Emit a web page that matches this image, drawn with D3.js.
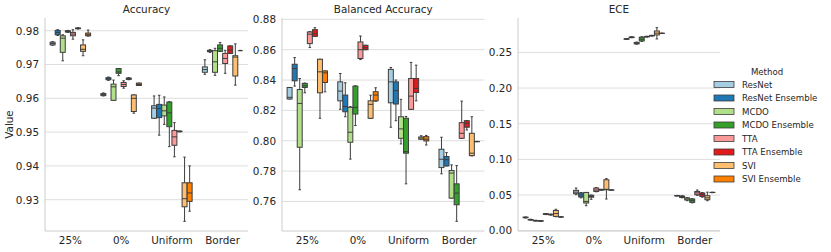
<!DOCTYPE html>
<html>
<head>
<meta charset="utf-8">
<script src="https://cdn.jsdelivr.net/npm/d3@7"></script>
<style>
  html, body { margin: 0; padding: 0; background: #fff; }
  svg { display: block; font-family: "DejaVu Sans", sans-serif; }
</style>
</head>
<body>
<svg id="chart" width="831" height="252"></svg>
<script>
// ---------- data ----------
const categories = ["25%", "0%", "Uniform", "Border"];
const methods = ["ResNet", "ResNet Ensemble", "MCDO", "MCDO Ensemble", "TTA", "TTA Ensemble", "SVI", "SVI Ensemble"];
const methodColors = ["#a6cee3", "#1f78b4", "#b2df8a", "#33a02c", "#fb9a99", "#e31a1c", "#fdbf6f", "#ff7f00"];
const metricTitles = ["Accuracy", "Balanced Accuracy", "ECE"];

// per method: per category [whiskerLow, q1, median, q3, whiskerHigh]
const accuracyStats = [
  [[0.9757,0.9758,0.9762,0.9766,0.9768],[0.9607,0.9608,0.9611,0.9614,0.9616],[0.9541,0.9541,0.9571,0.9578,0.9607],[0.9671,0.9677,0.9685,0.9693,0.9714]],
  [[0.9786,0.9788,0.9795,0.9801,0.9803],[0.9653,0.9655,0.9658,0.9661,0.9663],[0.9491,0.9543,0.9570,0.9582,0.9609],[0.9736,0.9738,0.9740,0.9742,0.9744]],
  [[0.9711,0.9736,0.9778,0.9785,0.9788],[0.9594,0.9594,0.9634,0.9642,0.9654],[0.9523,0.9548,0.9563,0.9580,0.9604],[0.9668,0.9677,0.9708,0.9741,0.9748]],
  [[0.9795,0.9796,0.9798,0.9800,0.9801],[0.9667,0.9674,0.9678,0.9688,0.9688],[0.9457,0.9516,0.9557,0.9589,0.9590],[0.9739,0.9739,0.9748,0.9758,0.9765]],
  [[0.9775,0.9785,0.9790,0.9795,0.9803],[0.9630,0.9635,0.9641,0.9647,0.9652],[0.9427,0.9461,0.9486,0.9505,0.9528],[0.9674,0.9703,0.9718,0.9733,0.9742]],
  [[0.9805,0.9806,0.9807,0.9808,0.9809],[0.9655,0.9656,0.9658,0.9660,0.9661],[0.9501,0.9501,0.9502,0.9503,0.9503],[0.9733,0.9733,0.9743,0.9755,0.9755]],
  [[0.9726,0.9739,0.9745,0.9758,0.9773],[0.9556,0.9561,0.9600,0.9610,0.9610],[0.9236,0.9279,0.9303,0.9350,0.9426],[0.9639,0.9666,0.9722,0.9726,0.9761]],
  [[0.9784,0.9785,0.9788,0.9793,0.9802],[0.9638,0.9638,0.9641,0.9645,0.9645],[0.9266,0.9295,0.9320,0.9350,0.9400],[0.9741,0.9741,0.9741,0.9741,0.9742]]
];
const balancedAccuracyStats = [
  [[0.8275,0.8275,0.8286,0.8351,0.8351],[0.8207,0.8263,0.8327,0.8388,0.8443],[0.8089,0.8250,0.8388,0.8470,0.8483],[0.7782,0.7823,0.7878,0.7944,0.8023]],
  [[0.8360,0.8395,0.8476,0.8504,0.8548],[0.8158,0.8191,0.8225,0.8301,0.8382],[0.8132,0.8242,0.8330,0.8388,0.8400],[0.7834,0.7834,0.7875,0.7896,0.7922]],
  [[0.7677,0.7957,0.8246,0.8338,0.8410],[0.7879,0.7990,0.8056,0.8220,0.8225],[0.7979,0.8016,0.8078,0.8158,0.8273],[0.7622,0.7622,0.7787,0.7804,0.7841]],
  [[0.8316,0.8351,0.8362,0.8378,0.8380],[0.8100,0.8176,0.8220,0.8360,0.8362],[0.7716,0.7918,0.7928,0.8148,0.8160],[0.7469,0.7578,0.7655,0.7716,0.7836]],
  [[0.8614,0.8640,0.8702,0.8717,0.8720],[0.8535,0.8542,0.8600,0.8651,0.8690],[0.8207,0.8207,0.8294,0.8410,0.8516],[0.8016,0.8016,0.8049,0.8119,0.8261]],
  [[0.8688,0.8688,0.8705,0.8732,0.8745],[0.8600,0.8600,0.8613,0.8629,0.8629],[0.8263,0.8318,0.8345,0.8410,0.8498],[0.8071,0.8089,0.8115,0.8132,0.8132]],
  [[0.8148,0.8316,0.8454,0.8537,0.8537],[0.8148,0.8148,0.8240,0.8263,0.8300],[0.8010,0.8010,0.8018,0.8025,0.8033],[0.7900,0.7902,0.7918,0.8049,0.8158]],
  [[0.8322,0.8384,0.8447,0.8460,0.8460],[0.8260,0.8263,0.8301,0.8323,0.8349],[0.7972,0.7999,0.8010,0.8027,0.8035],[0.7994,0.7994,0.7994,0.7995,0.7996]]
];
const eceStats = [
  [[0.0178,0.0181,0.0185,0.0190,0.0192],[0.0505,0.0518,0.0540,0.0565,0.0598],[0.2682,0.2685,0.2689,0.2692,0.2695],[0.0486,0.0488,0.0490,0.0492,0.0494]],
  [[0.0148,0.0150,0.0154,0.0157,0.0160],[0.0460,0.0472,0.0500,0.0528,0.0535],[0.2706,0.2708,0.2713,0.2716,0.2720],[0.0460,0.0465,0.0480,0.0485,0.0490]],
  [[0.0135,0.0137,0.0140,0.0143,0.0146],[0.0350,0.0388,0.0410,0.0536,0.0536],[0.2615,0.2620,0.2629,0.2640,0.2645],[0.0420,0.0430,0.0444,0.0460,0.0465]],
  [[0.0131,0.0133,0.0136,0.0139,0.0141],[0.0440,0.0470,0.0480,0.0496,0.0500],[0.2655,0.2661,0.2685,0.2713,0.2720],[0.0390,0.0397,0.0420,0.0444,0.0448]],
  [[0.0225,0.0229,0.0234,0.0238,0.0240],[0.0545,0.0550,0.0570,0.0598,0.0605],[0.2715,0.2718,0.2721,0.2724,0.2727],[0.0495,0.0504,0.0530,0.0550,0.0570]],
  [[0.0218,0.0222,0.0226,0.0230,0.0232],[0.0568,0.0570,0.0574,0.0578,0.0580],[0.2730,0.2732,0.2735,0.2738,0.2740],[0.0470,0.0480,0.0505,0.0528,0.0535]],
  [[0.0195,0.0200,0.0240,0.0284,0.0300],[0.0444,0.0574,0.0580,0.0714,0.0730],[0.2689,0.2745,0.2770,0.2801,0.2847],[0.0420,0.0434,0.0460,0.0490,0.0540]],
  [[0.0190,0.0191,0.0192,0.0193,0.0194],[0.0568,0.0569,0.0570,0.0571,0.0572],[0.2765,0.2767,0.2768,0.2769,0.2770],[0.0533,0.0535,0.0536,0.0537,0.0539]]
];
const accuracyTicks = [0.93, 0.94, 0.95, 0.96, 0.97, 0.98];
const balancedAccuracyTicks = [0.76, 0.78, 0.80, 0.82, 0.84, 0.86, 0.88];
const eceTicks = [0.00, 0.05, 0.10, 0.15, 0.20, 0.25];
const yLabel = "Value";
const legendTitle = "Method";

// ---------- layout ----------
const svg = d3.select("#chart");
const plotTop = 18, plotBottom = 231;
const textColor = "#262626", lineColor = "#3d3d3d", gridColor = "#dedede", spineColor = "#cccccc";
const fontSize = 10.4;

const panels = [
  { title: metricTitles[0], stats: accuracyStats, ticks: accuracyTicks, x0: 45, x1: 248, fmt: d3.format(".2f") },
  { title: metricTitles[1], stats: balancedAccuracyStats, ticks: balancedAccuracyTicks, x0: 282, x1: 484.5, fmt: d3.format(".2f") },
  { title: metricTitles[2], stats: eceStats, ticks: eceTicks, x0: 518, x1: 720, fmt: d3.format(".2f") }
];

panels.forEach((p, pi) => {
  // y-domain like matplotlib autoscale (5% margins)
  const all = p.stats.flat(2);
  const mn = d3.min(all), mx = d3.max(all), m = (mx - mn) * 0.05;
  const y = d3.scaleLinear().domain([mn - m, mx + m]).range([plotBottom, plotTop]);
  const x = d3.scaleBand().domain(categories).range([p.x0, p.x1]).padding(0);
  const hue = d3.scaleBand().domain(methods).range([x.bandwidth() * 0.1, x.bandwidth() * 0.9]).padding(0);

  const g = svg.append("g");

  // grid
  g.selectAll("line.grid").data(p.ticks).join("line")
    .attr("x1", p.x0).attr("x2", p.x1)
    .attr("y1", d => y(d)).attr("y2", d => y(d))
    .attr("stroke", gridColor).attr("stroke-width", 1);

  // y axis
  const yAxis = d3.axisLeft(y).tickValues(p.ticks).tickFormat(p.fmt).tickSize(0).tickPadding(6);
  const ya = g.append("g").attr("transform", `translate(${p.x0},0)`).call(yAxis);
  ya.select(".domain").remove();
  ya.selectAll("text").attr("fill", textColor).style("font-size", fontSize + "px").style("font-family", "DejaVu Sans");

  // x axis
  const xAxis = d3.axisBottom(x).tickSize(0).tickPadding(6);
  const xa = g.append("g").attr("transform", `translate(0,${plotBottom})`).call(xAxis);
  xa.select(".domain").remove();
  xa.selectAll("text").attr("fill", textColor).style("font-size", fontSize + "px").style("font-family", "DejaVu Sans");

  // spines
  g.append("line").attr("x1", p.x0).attr("x2", p.x0).attr("y1", plotTop).attr("y2", plotBottom)
    .attr("stroke", spineColor).attr("stroke-width", 1);
  g.append("line").attr("x1", p.x0).attr("x2", p.x1).attr("y1", plotBottom).attr("y2", plotBottom)
    .attr("stroke", spineColor).attr("stroke-width", 1);

  // title
  g.append("text").attr("x", (p.x0 + p.x1) / 2).attr("y", 13)
    .attr("text-anchor", "middle").attr("fill", textColor)
    .style("font-size", fontSize + "px").text(p.title);

  // boxes
  const bw = hue.bandwidth() * 0.98;
  p.stats.forEach((methodStats, mi) => {
    methodStats.forEach((s, ci) => {
      const cx = x(categories[ci]) + hue(methods[mi]) + hue.bandwidth() / 2;
      const [lo, q1, med, q3, hi] = s;
      const bg = g.append("g");
      bg.append("line").attr("x1", cx).attr("x2", cx).attr("y1", y(q3)).attr("y2", y(hi))
        .attr("stroke", lineColor).attr("stroke-width", 1);
      bg.append("line").attr("x1", cx).attr("x2", cx).attr("y1", y(q1)).attr("y2", y(lo))
        .attr("stroke", lineColor).attr("stroke-width", 1);
      [lo, hi].forEach(v => {
        bg.append("line").attr("x1", cx - bw / 4).attr("x2", cx + bw / 4).attr("y1", y(v)).attr("y2", y(v))
          .attr("stroke", lineColor).attr("stroke-width", 1);
      });
      bg.append("rect").attr("x", cx - bw / 2).attr("width", bw)
        .attr("y", y(q3)).attr("height", Math.max(0, y(q1) - y(q3)))
        .attr("fill", methodColors[mi]).attr("stroke", lineColor).attr("stroke-width", 1);
      bg.append("line").attr("x1", cx - bw / 2).attr("x2", cx + bw / 2).attr("y1", y(med)).attr("y2", y(med))
        .attr("stroke", lineColor).attr("stroke-width", 1);
    });
  });

  if (pi === 0) {
    svg.append("text").attr("transform", `translate(13,${(plotTop + plotBottom) / 2}) rotate(-90)`)
      .attr("text-anchor", "middle").attr("fill", textColor)
      .style("font-size", fontSize + "px").text(yLabel);
  }
});

// ---------- legend ----------
const lfs = 8.6;
const legend = svg.append("g");
legend.append("text").attr("x", 767).attr("y", 75).attr("text-anchor", "middle")
  .attr("fill", textColor).style("font-size", lfs + "px").text(legendTitle);
const rowY = d3.scalePoint().domain(methods).range([84.5, 179]);
methods.forEach((mth, i) => {
  const cy = rowY(mth);
  legend.append("rect").attr("x", 714).attr("y", cy - 3).attr("width", 20).attr("height", 6)
    .attr("fill", methodColors[i]).attr("stroke", lineColor).attr("stroke-width", 0.8);
  legend.append("text").attr("x", 742).attr("y", cy + 3.2).attr("fill", textColor)
    .style("font-size", lfs + "px").text(mth);
});
</script>
</body>
</html>
